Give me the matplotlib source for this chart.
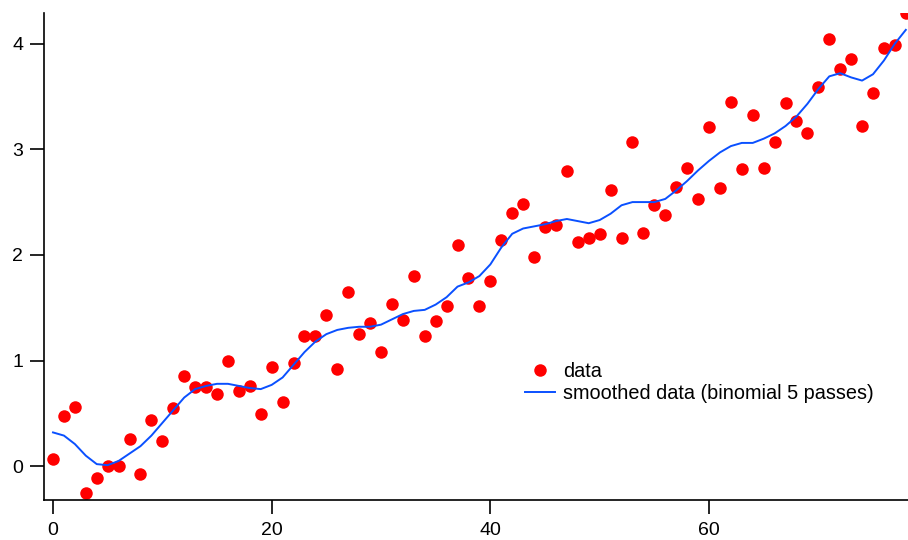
'''
noisy linear data with its binomial smoothed version
'''

import matplotlib
matplotlib.use('Agg')
import matplotlib.pyplot as plt

plt.rcParams['font.family'] = ['Liberation Sans', 'DejaVu Sans']

# x index of each point
X = list(range(79))

DATA = [0.07, 0.48, 0.56, -0.25, -0.11, 0.00, 0.00, 0.26, -0.07, 0.44,
        0.24, 0.55, 0.85, 0.75, 0.75, 0.68, 1.00, 0.71, 0.76, 0.49,
        0.94, 0.61, 0.98, 1.23, 1.23, 1.43, 0.92, 1.65, 1.25, 1.36,
        1.08, 1.54, 1.38, 1.80, 1.23, 1.37, 1.52, 2.09, 1.78, 1.52,
        1.75, 2.14, 2.40, 2.48, 1.98, 2.26, 2.28, 2.79, 2.12, 2.16,
        2.20, 2.61, 2.16, 3.07, 2.21, 2.47, 2.38, 2.64, 2.82, 2.53,
        3.21, 2.63, 3.45, 2.81, 3.32, 2.82, 3.07, 3.44, 3.27, 3.15,
        3.59, 4.04, 3.76, 3.85, 3.22, 3.53, 3.96, 3.99, 4.29]

# smoothed curve, also
SMOOTH = [0.32, 0.29, 0.21, 0.10, 0.02, 0.01, 0.05, 0.12, 0.19, 0.29,
          0.41, 0.53, 0.65, 0.73, 0.76, 0.78, 0.78, 0.76, 0.74, 0.73,
          0.77, 0.84, 0.96, 1.08, 1.18, 1.25, 1.29, 1.31, 1.32, 1.32,
          1.34, 1.39, 1.44, 1.47, 1.48, 1.53, 1.60, 1.70, 1.74, 1.80,
          1.91, 2.07, 2.20, 2.25, 2.27, 2.29, 2.32, 2.34, 2.32, 2.30,
          2.33, 2.39, 2.47, 2.50, 2.50, 2.50, 2.53, 2.61, 2.70, 2.80,
          2.89, 2.97, 3.03, 3.06, 3.06, 3.10, 3.15, 3.22, 3.31, 3.43,
          3.57, 3.69, 3.72, 3.68, 3.65, 3.71, 3.84, 4.00, 4.13]

fig = plt.figure(figsize=(9.08, 5.4), dpi=100)
ax = fig.add_axes([0.0485, 0.074, 0.9515, 0.902])

ax.plot(X, DATA, 'o', color='#ff0000', markersize=9, markeredgewidth=0,
        label='data')
ax.plot(X, SMOOTH, '-', color='#0a50ff', linewidth=1.4,
        label='smoothed data (binomial 5 passes)')

ax.set_xlim(-0.82, 78.2)
ax.set_ylim(-0.32, 4.29)
ax.set_xticks([0, 20, 40, 60])
ax.set_yticks([0, 1, 2, 3, 4])

# only the left and bottom axes, ticks pointing out
for side in ['top', 'right']:
    ax.spines[side].set_visible(False)
for side in ['left', 'bottom']:
    ax.spines[side].set_linewidth(1.2)
ax.tick_params(axis='both', direction='out', length=10, width=1.2,
               labelsize=14)
ax.tick_params(axis='y', pad=5)
ax.tick_params(axis='x', pad=6)

ax.legend(loc='upper left', bbox_to_anchor=(0.557, 0.283), frameon=False,
          fontsize=14.3, borderpad=0, handlelength=1.5, handletextpad=0.42,
          labelspacing=0.15, borderaxespad=0)

fig.savefig('out.png', dpi=100)
